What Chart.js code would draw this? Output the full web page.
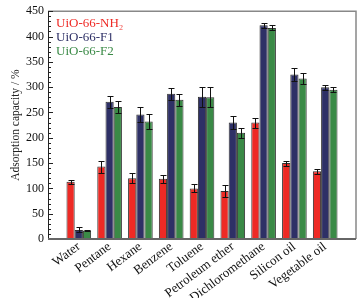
<!DOCTYPE html>
<html>
<head>
<meta charset="utf-8">
<script src="https://cdn.jsdelivr.net/npm/chart.js@4"></script>
<style>
  html, body { margin: 0; padding: 0; background: #fff; }
  #wrap { width: 364px; height: 298px; }
</style>
</head>
<body>
<div id="wrap"><canvas id="chart" width="364" height="298"></canvas></div>
<script>
const solvents = ["Water", "Pentane", "Hexane", "Benzene", "Toluene", "Petroleum ether", "Dichloromethane", "Silicon oil", "Vegetable oil"];
const seriesNames = ["UiO-66-NH\u2082", "UiO-66-F1", "UiO-66-F2"];
const nh2Values = [113, 143, 120, 119, 100, 95, 230, 150, 134];
const f1Values = [18, 271, 246, 287, 281, 230, 422, 325, 300];
const f2Values = [17, 261, 232, 275, 280, 210, 417, 317, 295];
const nh2Errors = [4, 12, 10, 8, 8, 12, 10, 5, 5];
const f1Errors = [5, 12, 14, 12, 20, 12, 5, 12, 5];
const f2Errors = [1, 12, 14, 12, 20, 10, 5, 10, 5];
const yTicks = [0, 50, 100, 150, 200, 250, 300, 350, 400, 450];
const minorStep = 10;

const colors = ["#ee2a25", "#2e3066", "#3a8a46"];
const serif = "'Liberation Serif', 'DejaVu Serif', serif";

// Error bars drawn from the bar elements
const errorBars = {
    id: "errorBars",
    afterDatasetsDraw(chart) {
        const ctx = chart.ctx;
        const yScale = chart.scales.y;
        ctx.save();
        ctx.strokeStyle = "#111";
        ctx.lineWidth = 1;
        chart.data.datasets.forEach((ds, i) => {
            const meta = chart.getDatasetMeta(i);
            meta.data.forEach((bar, j) => {
                const v = ds.data[j].y;
                const e = ds.errors[j];
                const x = Math.round(bar.x) + 0.5;
                const top = Math.round(yScale.getPixelForValue(v + e)) + 0.5;
                const bot = Math.round(yScale.getPixelForValue(v - e)) + 0.5;
                ctx.beginPath();
                ctx.moveTo(x, top);
                ctx.lineTo(x, bot);
                ctx.moveTo(x - 3, top);
                ctx.lineTo(x + 3, top);
                ctx.moveTo(x - 3, bot);
                ctx.lineTo(x + 3, bot);
                ctx.stroke();
            });
        });
        ctx.restore();
    }
};

// Frame, inner ticks and text legend
const frameLegend = {
    id: "frameLegend",
    afterDraw(chart) {
        const ctx = chart.ctx;
        const a = chart.chartArea;
        const yScale = chart.scales.y;
        ctx.save();
        ctx.strokeStyle = "#888";
        ctx.lineWidth = 1.5;
        ctx.beginPath();
        ctx.moveTo(a.left, a.top);
        ctx.lineTo(a.right, a.top);
        ctx.lineTo(a.right, a.bottom);
        ctx.stroke();

        ctx.strokeStyle = "#222";
        ctx.lineWidth = 1;
        ctx.beginPath();
        ctx.moveTo(a.left + 0.5, a.top);
        ctx.lineTo(a.left + 0.5, a.bottom);
        for (let v = yScale.min; v <= yScale.max; v += minorStep) {
            const y = Math.round(yScale.getPixelForValue(v)) + 0.5;
            const len = yTicks.includes(v) ? 5 : 3;
            ctx.moveTo(a.left, y);
            ctx.lineTo(a.left + len, y);
        }
        ctx.stroke();

        ctx.strokeStyle = "#666";
        ctx.lineWidth = 2;
        ctx.beginPath();
        ctx.moveTo(a.left, a.bottom);
        ctx.lineTo(a.right, a.bottom);
        ctx.stroke();

        ctx.font = "13px " + serif;
        ctx.textBaseline = "middle";
        chart.data.datasets.forEach((ds, i) => {
            ctx.fillStyle = colors[i];
            ctx.fillText(ds.label, a.left + 8, a.top + 12 + i * 14);
        });
        ctx.restore();
    }
};

function makeDataset(i, values, errors) {
    return {
        label: seriesNames[i],
        data: values.map((v, k) => ({ x: k, y: v })),
        errors: errors,
        backgroundColor: colors[i],
        borderColor: "#333",
        borderWidth: 1,
        barPercentage: 1.0,
        categoryPercentage: 0.8
    };
}

const chart = new Chart(document.getElementById("chart"), {
    type: "bar",
    data: {
        datasets: [
            makeDataset(0, nh2Values, nh2Errors),
            makeDataset(1, f1Values, f1Errors),
            makeDataset(2, f2Values, f2Errors)
        ]
    },
    options: {
        responsive: false,
        animation: false,
        layout: { padding: { top: 11, right: 8, left: 0, bottom: 0 } },
        plugins: {
            legend: { display: false },
            tooltip: { enabled: false }
        },
        scales: {
            x: {
                type: "linear",
                offset: false,
                // leave about one category of empty space at each end
                min: -1,
                max: solvents.length,
                afterBuildTicks(axis) {
                    axis.ticks = solvents.map((s, i) => ({ value: i }));
                },
                afterFit(axis) {
                    axis.height = 59;
                },
                grid: { display: false, drawTicks: false },
                border: { display: false },
                ticks: {
                    color: "#111",
                    font: { family: serif, size: 13 },
                    autoSkip: false,
                    minRotation: 37,
                    maxRotation: 37,
                    padding: 0,
                    callback: (value) => solvents[value] ?? ""
                }
            },
            y: {
                min: 0,
                max: 450,
                afterBuildTicks(axis) {
                    axis.ticks = yTicks.map(v => ({ value: v }));
                },
                afterFit(axis) {
                    axis.width = 48;
                },
                grid: { display: false, drawTicks: false },
                border: { display: false },
                title: {
                    display: true,
                    text: "Adsorption capacity / %",
                    color: "#222",
                    font: { family: serif, size: 11.5 },
                    padding: { top: 9, bottom: 0 }
                },
                ticks: {
                    color: "#111",
                    font: { family: serif, size: 12 },
                    padding: 4
                }
            }
        }
    },
    plugins: [errorBars, frameLegend]
});
</script>
</body>
</html>
